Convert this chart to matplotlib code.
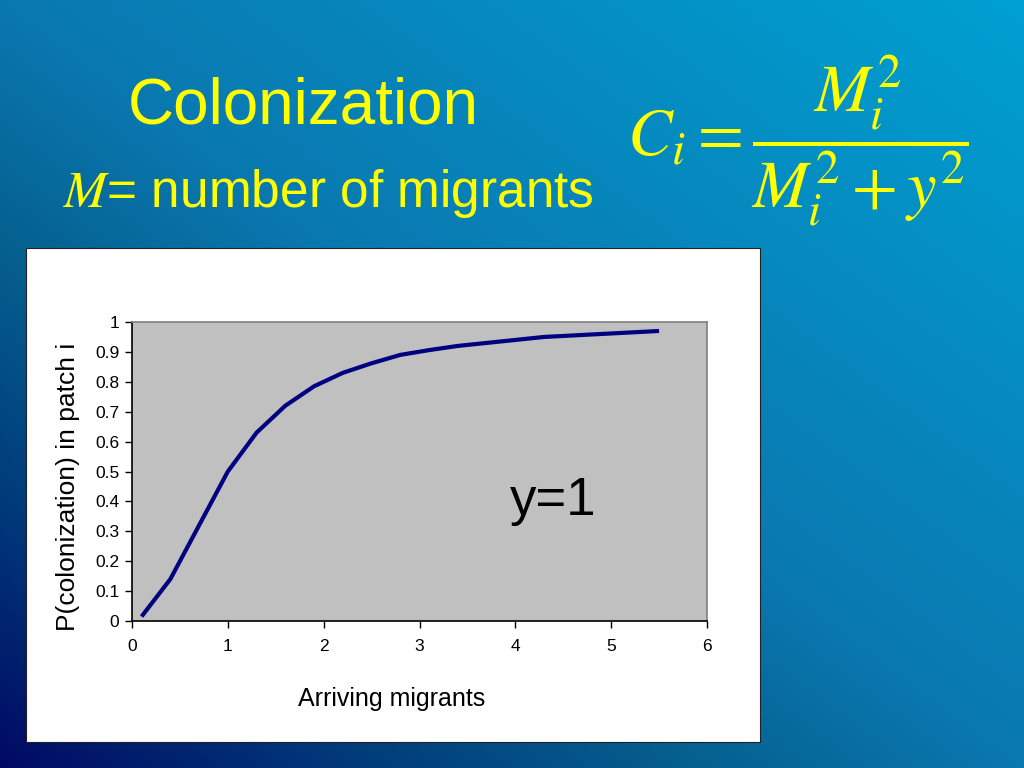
import numpy as np
import matplotlib
matplotlib.use("Agg")
import matplotlib.pyplot as plt
from matplotlib.colors import LinearSegmentedColormap
from matplotlib.patches import Rectangle

plt.rcParams['font.family'] = ['Liberation Sans', 'DejaVu Sans']
plt.rcParams['mathtext.fontset'] = 'stix'

# Datos
migrantes = [0.1, 0.4, 0.7, 1.0, 1.3, 1.6, 1.9, 2.2, 2.5, 2.8, 3.1, 3.4, 4.3, 5.5]
p_colon = [0.015, 0.14, 0.32, 0.50, 0.63, 0.72, 0.785, 0.83, 0.862, 0.89, 0.906, 0.92, 0.95, 0.97]

x_ticks = [0, 1, 2, 3, 4, 5, 6]
y_ticks = [0, 0.1, 0.2, 0.3, 0.4, 0.5, 0.6, 0.7, 0.8, 0.9, 1]
y_tick_labels = ['0', '0.1', '0.2', '0.3', '0.4', '0.5', '0.6', '0.7', '0.8', '0.9', '1']

W, H = 1024, 768
fig = plt.figure(figsize=(W / 100, H / 100), dpi=100)

# Fondo con degradado diagonal
bg = fig.add_axes([0, 0, 1, 1])
bg.set_axis_off()
bg.set_zorder(0)
xx, yy = np.meshgrid(np.linspace(0, 1, 256), np.linspace(0, 1, 192))
u = (xx + yy) / 2  # yy=1 arriba (origin lower)
cmap = LinearSegmentedColormap.from_list(
    'fondo', [(0, '#000A64'), (0.175, '#003A7A'), (0.34, '#05608F'),
              (0.5, '#0A78B0'), (1, '#00A0D2')])
bg.imshow(u, cmap=cmap, origin='lower', extent=[0, 1, 0, 1], aspect='auto')
bg.set_xlim(0, 1)
bg.set_ylim(0, 1)

# Caja blanca del gráfico
bg.add_patch(Rectangle((26 / W, 1 - 742 / H), (760 - 26) / W, (742 - 248) / H,
                       transform=fig.transFigure, facecolor='white',
                       edgecolor='#222222', linewidth=0.8, zorder=3))

# Títulos y fórmula
amarillo = '#FFFF00'
fig.text(303 / W, 1 - 123 / H, 'Colonization', color=amarillo, fontsize=46,
         ha='center', va='baseline')
fig.text(63 / W, 1 - 207 / H, r'$M$= number of migrants', color=amarillo,
         fontsize=37, ha='left', va='baseline')
fig.text(798 / W, 1 - 141 / H, r'$C_i = \dfrac{M_i^2}{M_i^2 + y^2}$',
         color=amarillo, fontsize=48, ha='center', va='center')

# Gráfico
ax = fig.add_axes([132 / W, 1 - 621 / H, (707 - 132) / W, (621 - 322) / H])
ax.set_zorder(2)
ax.set_facecolor('#C0C0C0')
ax.plot(migrantes, p_colon, color='#000080', linewidth=3, solid_capstyle='butt')
ax.set_xlim(0, 6)
ax.set_ylim(0, 1)
ax.set_xticks(x_ticks)
ax.set_yticks(y_ticks)
ax.set_yticklabels(y_tick_labels)
ax.tick_params(direction='out', length=5, width=1, labelsize=12.5, colors='black', pad=4)
ax.tick_params(axis='x', pad=8)
for lado in ['top', 'right']:
    ax.spines[lado].set_color('#808080')
    ax.spines[lado].set_linewidth(1.2)
for lado in ['left', 'bottom']:
    ax.spines[lado].set_color('black')
    ax.spines[lado].set_linewidth(1.2)
ax.set_xlabel('Arriving migrants', fontsize=18)
ax.xaxis.set_label_coords(0.452, -0.22)
ax.set_ylabel('P(colonization) in patch i', fontsize=19)
ax.yaxis.set_label_coords(-0.09, 0.448)
ax.text(4.39, 0.40, 'y=1', fontsize=38, ha='center', va='center')

fig.savefig('out.png', dpi=100)
